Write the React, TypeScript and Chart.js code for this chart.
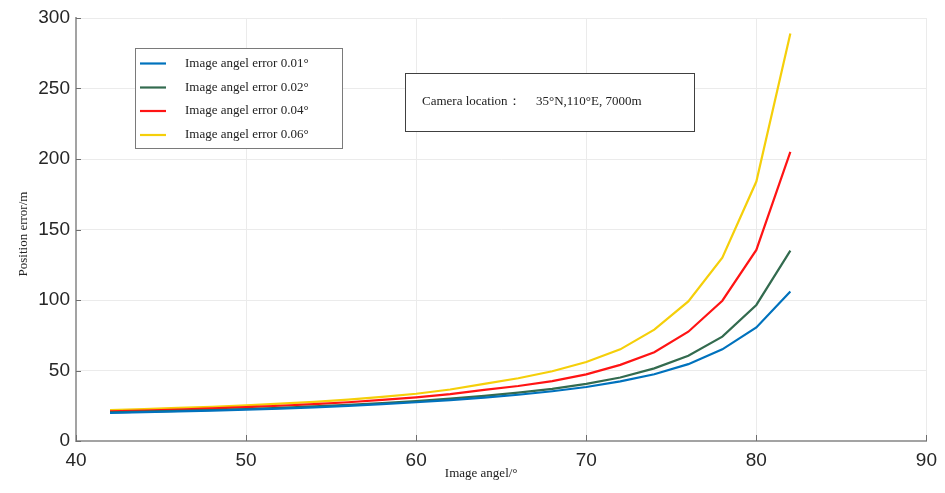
import React, { useEffect, useRef } from "react";
import { Chart, registerables } from "chart.js";

Chart.register(...registerables);

const angles = [42, 44, 46, 48, 50, 52, 54, 56, 58, 60, 62, 64, 66, 68, 70, 72, 74, 76, 78, 80, 82];
const err001 = [20, 20.5, 21, 21.6, 22.3, 23, 23.9, 24.9, 26.1, 27.5, 29, 30.8, 32.8, 35.3, 38.3, 42.3, 47.3, 54.5, 65, 80.5, 106];
const err002 = [20.3, 20.8, 21.4, 22, 22.7, 23.5, 24.5, 25.6, 26.8, 28.3, 30, 32, 34.3, 37, 40.5, 45, 51.5, 60.5, 74, 96.5, 135];
const err004 = [21, 21.6, 22.3, 23.1, 24, 25, 26.2, 27.5, 29.1, 31, 33.3, 36.2, 39, 42.5, 47.3, 54, 63, 77.5, 99.5, 135.5, 205];
const err006 = [22, 22.7, 23.5, 24.3, 25.3, 26.5, 27.8, 29.4, 31.3, 33.5, 36.5, 40.5, 44.5, 49.5, 56, 65, 79, 99, 130, 184, 289];

const seriesLabels = [
  "Image angel error 0.01°",
  "Image angel error 0.02°",
  "Image angel error 0.04°",
  "Image angel error 0.06°",
];
const seriesColors = ["#0072BD", "#336B4F", "#FF1414", "#F5CF0A"];
const seriesValues = [err001, err002, err004, err006];

const xTicks = [40, 50, 60, 70, 80, 90];
const yTicks = [0, 50, 100, 150, 200, 250, 300];

const xTitle = "Image angel/°";
const yTitle = "Position error/m";
const noteLabel = "Camera location：";
const noteValue = "35°N,110°E, 7000m";

const SERIF = "'Liberation Serif', 'Times New Roman', serif";
const SANS = "'Liberation Sans', Arial, sans-serif";

const decorPlugin = {
  id: "decor",
  beforeDraw(chart: any) {
    const { ctx } = chart;
    ctx.save();
    ctx.fillStyle = "#ffffff";
    ctx.fillRect(0, 0, chart.width, chart.height);
    ctx.restore();
  },
  afterDraw(chart: any) {
    const { ctx, chartArea, scales } = chart;
    const xs = scales.x;
    const ys = scales.y;
    ctx.save();
    // inward ticks
    ctx.strokeStyle = "#6e6e6e";
    ctx.lineWidth = 1;
    xTicks.forEach((t) => {
      const px = Math.round(xs.getPixelForValue(t)) + 0.5;
      ctx.beginPath();
      ctx.moveTo(px, chartArea.bottom);
      ctx.lineTo(px, chartArea.bottom - 6);
      ctx.stroke();
    });
    yTicks.forEach((t) => {
      const py = Math.round(ys.getPixelForValue(t)) + 0.5;
      ctx.beginPath();
      ctx.moveTo(chartArea.left, py);
      ctx.lineTo(chartArea.left + 5, py);
      ctx.stroke();
    });

    // legend box
    const lx = 135.5, ly = 48.5, lw = 207, lh = 100;
    ctx.fillStyle = "#ffffff";
    ctx.fillRect(lx, ly, lw, lh);
    ctx.strokeStyle = "#7a7a7a";
    ctx.lineWidth = 1;
    ctx.strokeRect(lx, ly, lw, lh);
    const rows = [63.5, 87.5, 111, 135];
    ctx.font = `13px ${SERIF}`;
    ctx.textBaseline = "middle";
    ctx.textAlign = "left";
    seriesLabels.forEach((lab, i) => {
      ctx.strokeStyle = seriesColors[i];
      ctx.lineWidth = 2.2;
      ctx.beginPath();
      ctx.moveTo(140, rows[i]);
      ctx.lineTo(166, rows[i]);
      ctx.stroke();
      ctx.fillStyle = "#222222";
      ctx.fillText(lab, 185, rows[i]);
    });

    // annotation box
    ctx.fillStyle = "#ffffff";
    ctx.fillRect(405.5, 73.5, 289, 58);
    ctx.strokeStyle = "#404040";
    ctx.lineWidth = 1;
    ctx.strokeRect(405.5, 73.5, 289, 58);
    ctx.fillStyle = "#222222";
    ctx.font = `13px ${SERIF}`;
    ctx.fillText(noteLabel, 422, 102);
    ctx.fillText(noteValue, 536, 102);

    // axis titles
    ctx.fillStyle = "#222222";
    ctx.font = `13px ${SERIF}`;
    ctx.textAlign = "center";
    ctx.textBaseline = "alphabetic";
    ctx.fillText(xTitle, (chartArea.left + chartArea.right) / 2 - 20, 477);
    ctx.save();
    ctx.translate(27, 234);
    ctx.rotate(-Math.PI / 2);
    ctx.fillText(yTitle, 0, 0);
    ctx.restore();
    ctx.restore();
  },
};

export default function App() {
  const canvasRef = useRef<HTMLCanvasElement | null>(null);

  useEffect(() => {
    document.body.style.margin = "0";
    const canvas = canvasRef.current;
    if (!canvas) return;
    const datasets = seriesValues.map((vals, i) => ({
      label: seriesLabels[i],
      data: angles.map((a, j) => ({ x: a, y: vals[j] })),
      borderColor: seriesColors[i],
      backgroundColor: seriesColors[i],
      borderWidth: 2.2,
      pointRadius: 0,
      tension: 0,
      fill: false,
    }));
    const chart = new Chart(canvas, {
      type: "line",
      data: { datasets },
      options: {
        responsive: false,
        animation: false,
        events: [],
        layout: { padding: { top: 18, right: 17, left: 0, bottom: 0 } },
        plugins: { legend: { display: false }, tooltip: { enabled: false } },
        scales: {
          x: {
            type: "linear",
            min: 40,
            max: 90,
            afterFit: (s: any) => {
              s.height = 52;
            },
            afterBuildTicks: (s: any) => {
              s.ticks = xTicks.map((v) => ({ value: v }));
            },
            ticks: {
              font: { family: SANS, size: 19 },
              color: "#262626",
              padding: 8,
              maxRotation: 0,
            },
            grid: { color: "#ebebeb", drawTicks: false, lineWidth: 1 },
            border: { color: "#a3a3a3", width: 2 },
          },
          y: {
            type: "linear",
            min: 0,
            max: 300,
            afterFit: (s: any) => {
              s.width = 76;
            },
            afterBuildTicks: (s: any) => {
              s.ticks = yTicks.map((v) => ({ value: v }));
            },
            ticks: {
              font: { family: SANS, size: 19 },
              color: "#262626",
              padding: 6,
            },
            grid: { color: "#ebebeb", drawTicks: false, lineWidth: 1 },
            border: { color: "#a3a3a3", width: 2 },
          },
        },
      },
      plugins: [decorPlugin],
    });
    return () => chart.destroy();
  }, []);

  return (
    <div style={{ width: 945, height: 493, background: "#fff" }}>
      <canvas ref={canvasRef} width={945} height={493} style={{ display: "block" }} />
    </div>
  );
}
